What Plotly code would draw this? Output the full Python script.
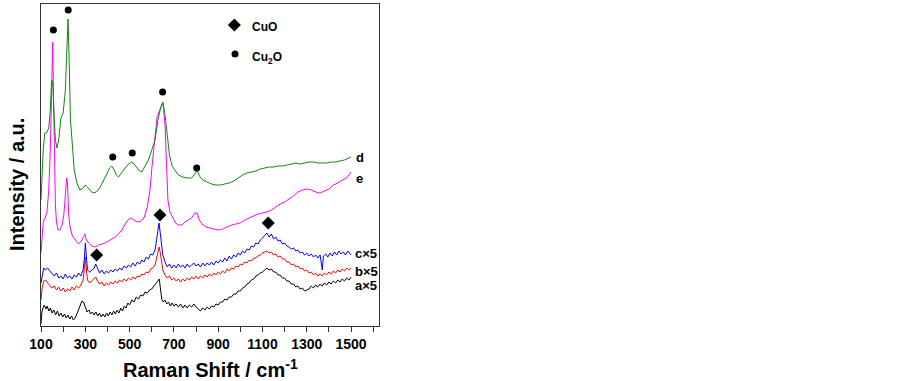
import plotly.graph_objects as go

# ---------------- data (intensity in arbitrary units) ----------------
d_x = [100,110,117,125,135,142,148,153,158,165,172,180,190,200,210,217,222,227,233,240,250,262,276,290,300,310,320,335,350,365,380,395,410,420,430,440,450,465,480,495,510,525,540,555,570,585,600,615,628,640,650,660,670,680,692,705,720,740,760,780,795,805,815,830,850,870,890,910,930,950,970,990,1010,1030,1050,1070,1090,1110,1130,1150,1170,1190,1210,1230,1250,1270,1290,1310,1330,1350,1370,1390,1410,1430,1450,1470,1490,1500]
d_y = [126,176,193,193,198,216,246,243,216,186,178,186,208,213,236,286,307,266,206,186,156,143,136,138,141,139,136,133,134,138,144,151,158,160,156,151,149,154,158,162,164,161,156,154,160,166,176,186,206,218,224,211,191,171,160,156,151,149,148,148,152,156,150,146,144,142,141,141,142,143,145,148,151,153,154,155,157,158,159,159,160,160,161,162,163,162,163,164,164,163,163,163,164,164,165,166,168,169]

e_x = [100,105,110,118,127,135,142,147,151,153,156,160,165,170,177,185,195,203,210,216,220,225,232,242,255,270,285,293,298,305,315,330,345,360,375,390,405,420,435,450,465,480,493,505,520,535,550,565,580,592,601,615,624,640,651,660,668,673,682,692,705,718,735,750,765,780,795,805,815,827,845,860,880,900,920,940,960,980,1000,1020,1040,1060,1080,1100,1120,1140,1160,1180,1200,1220,1240,1260,1280,1300,1320,1340,1360,1380,1400,1420,1440,1460,1480,1500]
e_y = [73,86,104,108,114,136,176,226,271,284,236,166,121,104,96,96,101,111,131,148,141,111,98,90,86,82,86,90,92,86,83,80,79,81,82,83,85,87,89,92,96,102,106,108,106,104,105,108,119,136,159,186,209,218,223,201,161,126,114,109,104,101,101,104,106,108,113,113,106,102,99,98,97,96,97,99,101,102,103,106,108,110,112,113,114,116,119,122,124,127,130,134,136,137,136,134,133,135,137,141,143,146,148,154]

c_x = [100,105,112,120,130,140,150,160,170,180,190,200,210,220,230,240,250,260,270,280,290,296,300,304,310,320,330,340,347,355,365,375,385,395,405,415,425,435,445,455,465,475,485,495,505,515,525,535,545,555,565,575,585,595,605,615,622,628,633,638,644,650,660,670,680,690,700,710,720,730,740,750,760,770,780,790,800,810,820,830,840,850,860,870,880,890,900,910,920,930,940,950,960,970,980,990,1000,1010,1020,1030,1040,1050,1060,1070,1080,1090,1100,1110,1120,1130,1140,1150,1160,1170,1180,1190,1200,1210,1220,1230,1240,1250,1260,1270,1280,1290,1300,1310,1320,1330,1340,1350,1360,1370,1375,1385,1395,1405,1415,1425,1435,1445,1455,1465,1475,1485,1500]
c_y = [43,51,58,56,58,55,52,50,53,48,50,47,52,48,50,47,51,49,53,50,56,68,83,68,56,54,56,58,62,58,53,56,52,55,53,56,54,57,55,58,56,60,58,61,59,63,60,64,62,66,64,69,67,72,71,76,86,98,103,94,78,71,64,59,62,58,61,58,62,59,61,58,62,59,61,63,60,62,59,63,60,63,61,64,61,65,63,66,64,68,65,70,67,71,69,73,71,75,73,77,76,80,79,83,82,86,88,91,93,89,92,87,89,85,86,82,83,80,79,77,78,75,76,73,74,71,73,70,72,69,71,68,71,56,70,72,69,73,70,74,71,75,72,74,71,75,71]

b_x = [100,105,112,120,130,140,150,160,170,180,190,200,210,220,230,240,250,260,270,280,290,296,300,304,310,320,330,340,347,355,365,375,385,395,405,415,425,435,445,455,465,475,485,495,505,515,525,535,545,555,565,575,585,595,605,615,622,628,633,638,644,650,660,670,680,690,700,710,720,730,740,750,760,770,780,790,800,810,820,830,840,850,860,870,880,890,900,910,920,930,940,950,960,970,980,990,1000,1010,1020,1030,1040,1050,1060,1070,1080,1090,1100,1110,1120,1130,1140,1150,1160,1170,1180,1190,1200,1210,1220,1230,1240,1250,1260,1270,1280,1290,1300,1310,1320,1330,1340,1350,1360,1370,1380,1390,1400,1410,1420,1430,1440,1450,1460,1470,1480,1490,1500]
b_y = [26,38,45,46,43,41,38,40,36,39,35,38,34,37,35,39,36,40,38,41,46,58,69,58,46,43,45,47,49,45,42,44,40,43,41,44,42,45,43,46,44,47,45,48,46,49,47,50,49,52,51,54,53,57,58,61,68,76,79,74,64,56,51,48,50,46,48,45,47,44,47,45,48,46,49,47,50,47,50,48,51,49,52,50,53,51,54,52,55,53,57,55,58,57,60,59,62,61,64,63,66,65,68,68,70,71,73,74,75,73,74,71,72,69,70,67,67,64,64,61,62,59,60,57,58,55,56,53,54,51,53,50,52,50,53,51,54,52,55,53,56,54,57,55,58,56,58]

a_x = [100,104,109,115,122,128,135,142,150,158,166,174,182,190,198,206,214,222,230,238,246,254,262,270,278,285,292,300,308,316,324,332,340,348,356,364,372,380,388,396,404,412,420,428,436,444,452,460,468,476,484,492,500,510,520,530,540,550,560,570,580,590,600,610,620,628,634,640,646,652,660,668,676,684,692,700,710,720,730,740,750,760,770,780,790,800,810,820,830,840,850,860,870,880,890,900,910,920,930,940,950,960,970,980,990,1000,1010,1020,1030,1040,1050,1060,1070,1080,1090,1100,1110,1120,1130,1140,1150,1160,1170,1180,1190,1200,1210,1220,1230,1240,1250,1260,1270,1280,1290,1300,1310,1320,1330,1340,1350,1360,1370,1380,1390,1400,1410,1420,1430,1440,1450,1460,1470,1480,1490,1500]
a_y = [2,14,18,21,17,20,15,18,13,16,11,15,10,13,9,12,8,11,7,10,6,8,12,16,21,25,24,18,14,16,12,14,11,14,10,13,9,12,9,13,10,14,11,15,12,16,13,18,15,20,18,23,21,26,24,29,27,31,30,34,33,36,37,40,43,46,47,36,26,24,26,22,24,20,23,20,22,19,22,18,21,18,21,19,22,19,17,15,18,16,19,17,20,19,22,21,24,24,27,26,29,29,32,32,35,35,38,39,42,43,46,47,50,51,53,54,56,58,56,57,54,54,51,51,48,48,45,45,42,42,39,40,37,38,35,36,37,40,38,41,39,42,40,43,41,44,42,45,43,46,44,47,45,48,46,49]

cu2o_x = [156, 223, 424, 512, 649, 803]
cu2o_y = [296, 316, 169, 173, 234, 158]
cuo_x = [351, 637, 1126]
cuo_y = [71, 111, 103]

series_names = ["d", "e", "c×5", "b×5", "a×5"]
tick_vals = [100, 300, 500, 700, 900, 1100, 1300, 1500]
tick_text = ["100", "300", "500", "700", "900", "1100", "1300", "1500"]

# ---------------- figure ----------------
FONT = "Arial, Liberation Sans, sans-serif"
series = [
    (a_x, a_y, "#000000"),
    (b_x, b_y, "#ff0000"),
    (c_x, c_y, "#0000ff"),
    (e_x, e_y, "#ff00ff"),
    (d_x, d_y, "#118811"),
]

fig = go.Figure()
for xs, ys, col in series:
    fig.add_trace(go.Scatter(x=xs, y=ys, mode="lines",
                             line=dict(color=col, width=1), showlegend=False,
                             hoverinfo="skip"))

fig.add_trace(go.Scatter(x=cu2o_x, y=cu2o_y, mode="markers",
                         marker=dict(symbol="circle", size=7, color="black"),
                         showlegend=False))
fig.add_trace(go.Scatter(x=cuo_x, y=cuo_y, mode="markers",
                         marker=dict(symbol="diamond", size=10, color="black"),
                         showlegend=False))

# in-plot key
fig.add_trace(go.Scatter(x=[973], y=[301], mode="markers",
                         marker=dict(symbol="diamond", size=10, color="black"),
                         showlegend=False))
fig.add_trace(go.Scatter(x=[976], y=[272], mode="markers",
                         marker=dict(symbol="circle", size=7, color="black"),
                         showlegend=False))

annots = [
    dict(x=1045, y=299, text="CuO", size=12),
    dict(x=1045, y=268, text="Cu<sub>2</sub>O", size=12),
]
label_pos = {"d": (1512, 169), "e": (1512, 148), "c×5": (1508, 73), "b×5": (1508, 55), "a×5": (1508, 41)}
for name in series_names:
    lx, ly = label_pos[name]
    annots.append(dict(x=lx, y=ly, text=name, size=13))

annotations = []
for a in annots:
    annotations.append(dict(x=a["x"], y=a["y"], xref="x", yref="y", text="<b>" + a["text"] + "</b>",
                            showarrow=False, xanchor="left", yanchor="middle",
                            font=dict(family=FONT, size=a["size"], color="black")))

# axis titles placed as annotations
annotations.append(dict(x=863, y=0, xref="x", yref="paper", yshift=-42,
                        text="<b>Raman Shift / cm<sup>-1</sup></b>", showarrow=False,
                        xanchor="center", yanchor="middle",
                        font=dict(family=FONT, size=20, color="black")))
annotations.append(dict(x=0, y=141, xref="paper", yref="y", xshift=-24,
                        text="<b>Intensity / a.u.</b>", showarrow=False, textangle=-90,
                        xanchor="center", yanchor="middle",
                        font=dict(family=FONT, size=20, color="black")))

fig.update_layout(
    width=903, height=381,
    margin=dict(l=41, r=524, t=4, b=55, autoexpand=False),
    paper_bgcolor="white", plot_bgcolor="white",
    annotations=annotations,
    xaxis=dict(range=[100, 1626], tickvals=tick_vals, ticktext=tick_text,
               ticks="outside", ticklen=5, tickwidth=1, tickcolor="#333",
               minor=dict(ticks="outside", dtick=100, tick0=100, ticklen=5, tickcolor="#333"),
               showline=True, linecolor="#333", linewidth=1, mirror=True,
               showgrid=False, zeroline=False, automargin=False,
               tickfont=dict(family=FONT, size=14, color="black", weight="bold")),
    yaxis=dict(range=[0, 322], showticklabels=False, ticks="",
               showline=True, linecolor="#333", linewidth=1, mirror=True,
               showgrid=False, zeroline=False, automargin=False),
)

fig.write_html("out.html", config={"displayModeBar": False},
               post_script="document.body.style.margin='0';document.body.style.overflow='hidden';")
